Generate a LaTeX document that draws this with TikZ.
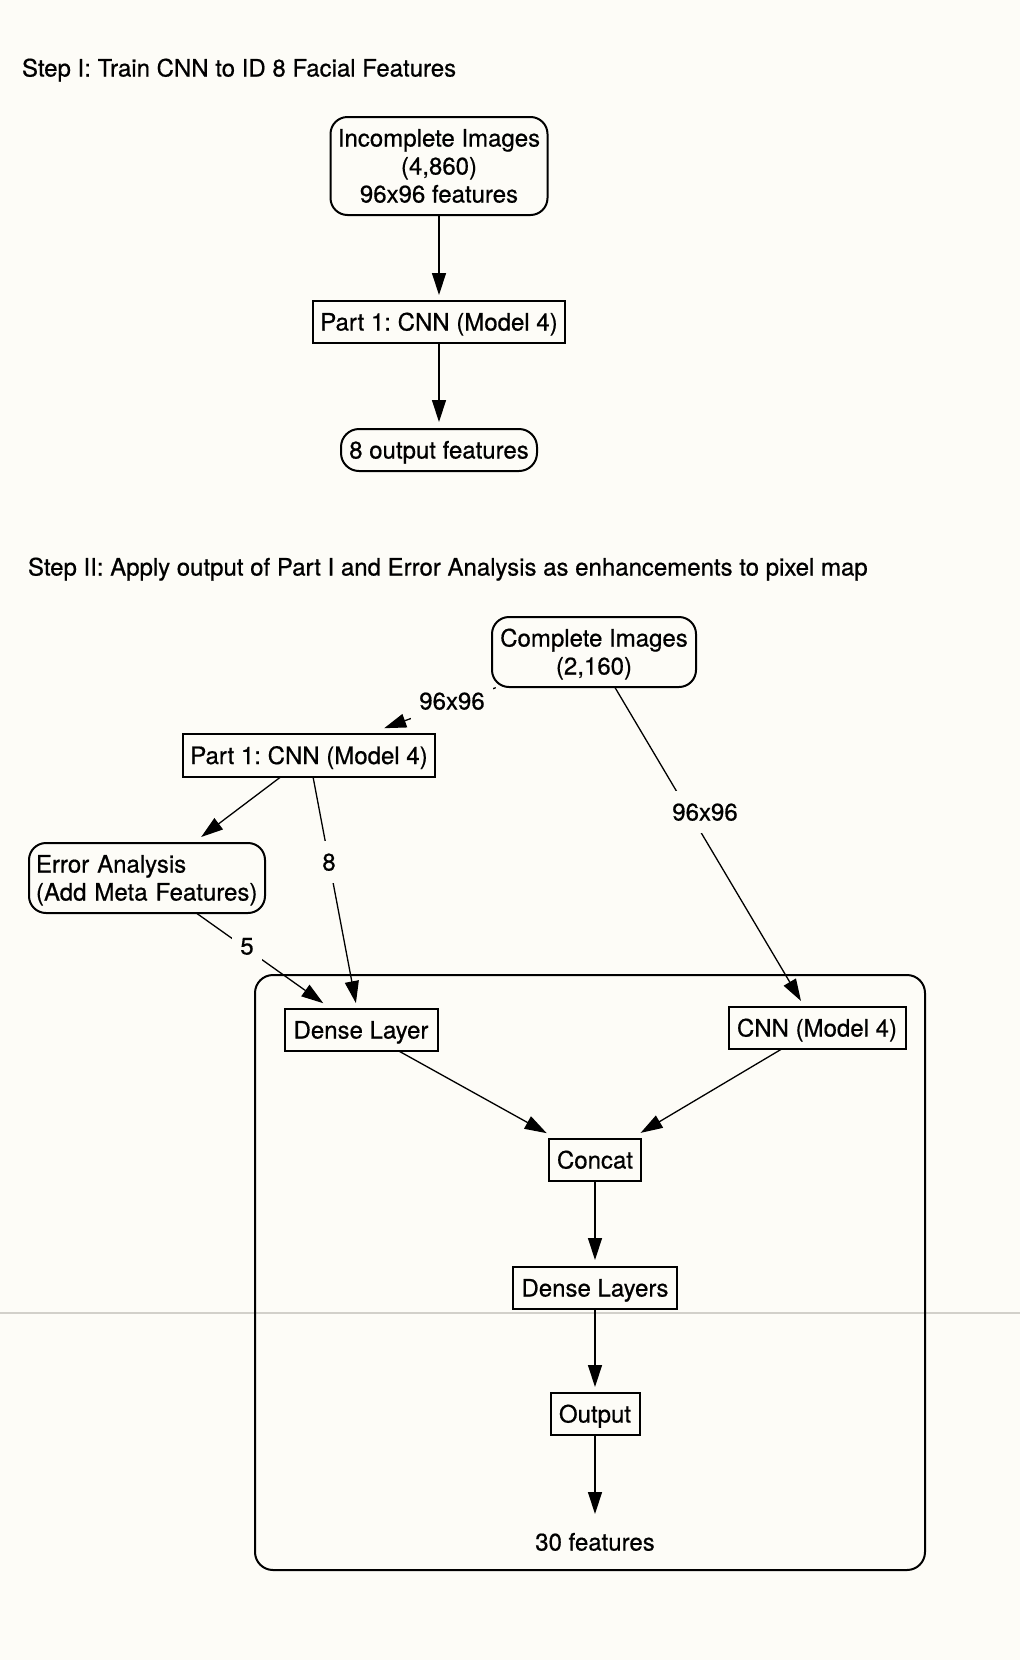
\documentclass[tikz,border=0pt]{standalone}
\usepackage{fontspec}
\setmainfont{TeX Gyre Heros}[FakeBold=0.6]
\usetikzlibrary{arrows.meta}
\definecolor{bg}{RGB}{253,252,247}
\definecolor{rulegray}{RGB}{210,208,202}
\newcommand\topstrut{\rule{0pt}{20pt}}
\newcommand\botstrut{\rule[-3pt]{0pt}{3pt}}
\begin{document}
\begin{tikzpicture}[x=1pt,y=-1pt,
  every node/.style={font=\fontsize{24}{28}\selectfont\frenchspacing, inner sep=0pt, outer sep=0pt},
  oneline/.style={text height=20pt, text depth=3pt},
  box/.style={draw, line width=2pt, rectangle},
  rbox/.style={box, rounded corners=17pt},
  conn/.style={line width=1.3pt, -{Triangle[length=22pt,width=14pt]}},
  lbl/.style={oneline, fill=bg, inner xsep=8pt, minimum height=42pt},
]
\fill[bg] (0,0) rectangle (1020,1660);
\useasboundingbox (0,0) rectangle (1020,1660);
\draw[rulegray, line width=1.3pt] (0,1313) -- (1020,1313);

% titles
\node[oneline, anchor=west] (t1) at (22,68) {Step I: Train CNN to ID 8 Facial Features};
\node[oneline, anchor=west] (t2) at (28,567) {Step II: Apply output of Part I and Error Analysis as enhancements to pixel map};

% step I
\node[rbox, minimum width=217pt, minimum height=98pt, align=center] (inc) at (439,166) {\topstrut Incomplete Images\\(4,860)\\\smash{96x96 features}\botstrut};
\node[box, oneline, minimum width=252pt, minimum height=42pt] (p1a) at (439,322) {Part 1: CNN (Model 4)};
\node[box, oneline, rounded corners=18pt, minimum width=196pt, minimum height=42pt] (out8) at (439,450) {8 output features};

% step II
\node[rbox, minimum width=204pt, minimum height=70pt, align=center] (comp) at (594,652) {\topstrut Complete Images\\\smash{(2,160)}\botstrut};
\node[box, oneline, minimum width=252pt, minimum height=43pt] (p1b) at (309,755.5) {Part 1: CNN (Model 4)};
\node[rbox, minimum width=236pt, minimum height=70pt, align=left, text width=222pt] (err) at (147,878) {\topstrut Error Analysis\\\smash{(Add Meta Features)}\botstrut};

\node[box, rounded corners=18pt, minimum width=670pt, minimum height=595pt] (cont) at (590,1272.5) {};
\node[box, oneline, minimum width=153pt, minimum height=42pt] (dense) at (361,1030) {Dense Layer};
\node[box, oneline, minimum width=177pt, minimum height=42pt] (cnn) at (817,1028) {CNN (Model 4)};
\node[box, oneline, minimum width=92pt, minimum height=42pt] (concat) at (595,1160) {Concat};
\node[box, oneline, minimum width=164pt, minimum height=42pt] (densel) at (595,1288) {Dense Layers};
\node[box, oneline, minimum width=89pt, minimum height=42pt] (outp) at (595,1414) {Output};
\node[oneline, minimum width=120pt, minimum height=42pt] (f30) at (595,1542) {30 features};

% connectors
\draw[conn, shorten >=6pt] (inc) -- (p1a);
\draw[conn, shorten >=7pt] (p1a) -- (out8);
\draw[conn, shorten >=17pt, shorten <=2pt] (comp) -- (p1b);
\draw[conn, shorten >=10pt] (p1b) -- (err);
\draw[conn, shorten >=6pt] (p1b) -- (dense);
\draw[conn, shorten >=10pt] (err) -- (dense);
\draw[conn, shorten >=7pt] (comp) -- (cnn);
\draw[conn, shorten >=12pt] (dense) -- (concat);
\draw[conn, shorten >=12pt] (cnn) -- (concat);
\draw[conn, shorten >=7pt] (concat) -- (densel);
\draw[conn, shorten >=6pt] (densel) -- (outp);
\draw[conn, shorten >=7pt] (outp) -- (f30);

% edge labels
\node[lbl] (l1) at (452,701) {96x96};
\node[lbl] (l2) at (705,812) {96x96};
\node[lbl] (l3) at (329,862) {8};
\node[lbl] (l4) at (247,946) {5};
\end{tikzpicture}
\end{document}
